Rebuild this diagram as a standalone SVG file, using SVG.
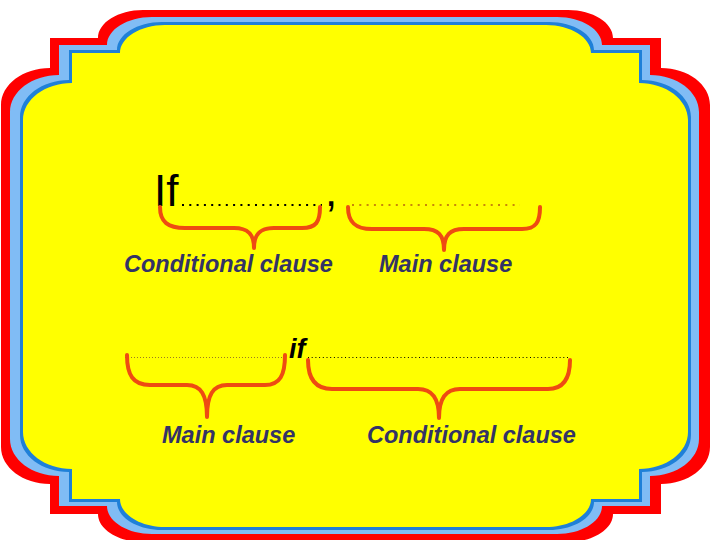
<svg xmlns="http://www.w3.org/2000/svg" width="720" height="540" viewBox="0 0 720 540">
<style>
.brace{fill:none;stroke:#ee4b12;stroke-width:4;stroke-linecap:round;stroke-linejoin:round}
.lbl{font-family:"Liberation Sans",Arial,sans-serif;font-style:italic;font-weight:bold;font-size:23.5px;fill:#333366}
.big{font-family:"Liberation Sans",Arial,sans-serif;font-size:44px;fill:#000}
.dots{fill:none}
</style>
<rect width="720" height="540" fill="#ffffff"/>
<g id="frame">
<path fill="#ff0000" d="M 143 10 H 568 C 592.75 10 613 22.6 613 38 L 661 38 L 661 68 C 688 68 710 84.6 710 105 V 447 C 710 467.4 688 484 661 484 L 661 514 L 613 514 C 613 529.4 592.75 542 568 542 H 143 C 118.25 542 98 529.4 98 514 L 50 514 L 50 484 C 23 484 1 467.4 1 447 V 105 C 1 84.6 23 68 50 68 L 50 38 L 98 38 C 98 22.6 118.25 10 143 10 Z"/>
<path fill="#80bcf5" d="M 152 17 H 557 C 581.75 17 602 29.6 602 45 L 650 45 L 650 75 C 677 75 699 91.6 699 112 V 439 C 699 459.4 677 476 650 476 L 650 506 L 602 506 C 602 521.4 581.75 534 557 534 H 152 C 127.25 534 107 521.4 107 506 L 59 506 L 59 476 C 32 476 10 459.4 10 439 V 112 C 10 91.6 32 75 59 75 L 59 45 L 107 45 C 107 29.6 127.25 17 152 17 Z"/>
<path fill="#1f80d8" d="M 162 22 H 549 C 573.75 22 594 34.6 594 50 L 642 50 L 642 80 C 669 80 691 96.6 691 117 V 435 C 691 455.4 669 472 642 472 L 642 502 L 594 502 C 594 517.4 573.75 530 549 530 H 162 C 137.25 530 117 517.4 117 502 L 69 502 L 69 472 C 42 472 20 455.4 20 435 V 117 C 20 96.6 42 80 69 80 L 69 50 L 117 50 C 117 34.6 137.25 22 162 22 Z"/>
<path fill="#ffff00" d="M 165 25 H 546 C 570.75 25 591 37.6 591 53 L 639 53 L 639 83 C 666 83 688 99.6 688 120 V 432 C 688 452.4 666 469 639 469 L 639 499 L 591 499 C 591 514.4 570.75 527 546 527 H 165 C 140.25 527 120 514.4 120 499 L 72 499 L 72 469 C 45 469 23 452.4 23 432 V 120 C 23 99.6 45 83 72 83 L 72 53 L 120 53 C 120 37.6 140.25 25 165 25 Z"/>
</g>
<g id="sentence1">
<text class="big" x="154" y="206">If</text>
<line class="dots" x1="182" y1="205" x2="322" y2="205" stroke="#000" stroke-width="2" stroke-dasharray="2 5.3"/>
<text class="big" x="325" y="206">,</text>
<line class="dots" x1="352" y1="205" x2="520" y2="205" stroke="#c8860a" stroke-width="2" stroke-dasharray="2 5.3"/>
</g>
<g id="sentence2">
<line class="dots" x1="125" y1="357.5" x2="284" y2="357.5" stroke="#9a7a20" stroke-width="1" stroke-dasharray="1 2"/>
<text x="289" y="358" style="font-family:'Liberation Sans',Arial,sans-serif;font-style:italic;font-weight:bold;font-size:27px;fill:#000">if</text>
<line class="dots" x1="308" y1="357.5" x2="570" y2="357.5" stroke="#000" stroke-width="1" stroke-dasharray="1 2.7"/>
</g>
<g id="connectors">
<path id="brace-cond1" class="brace" d="M160 207 C 160 222 168 228 185 228 L 234 228 C 248 228 254 234 254 248 C 254 234 260 228 274 228 L 302 228 C 316 228 320 222 320 207"/>
<path id="brace-main1" class="brace" d="M348 207 C 348 222 355 229 372 229 L 424 229 C 438 229 444 235 444 250 C 444 235 450 229 464 229 L 522 229 C 536 229 540 222 540 207"/>
<path id="brace-main2" class="brace" d="M127 355 C 127 375 133 385 150 385 L 187 385 C 201 385 207 395 207 417 C 207 395 213 385 227 385 L 265 385 C 280 385 285 375 285 355"/>
<path id="brace-cond2" class="brace" d="M308 360 C 308 378 315 389 332 389 L 418 389 C 432 389 439 398 439 418 C 439 398 446 389 460 389 L 548 389 C 564 389 570 378 570 360"/>
</g>
<g id="label-cond1"><text class="lbl" x="124" y="272">Conditional clause</text></g>
<g id="label-main1"><text class="lbl" x="379" y="272">Main clause</text></g>
<g id="label-main2"><text class="lbl" x="162" y="443">Main clause</text></g>
<g id="label-cond2"><text class="lbl" x="367" y="443">Conditional clause</text></g>
</svg>
